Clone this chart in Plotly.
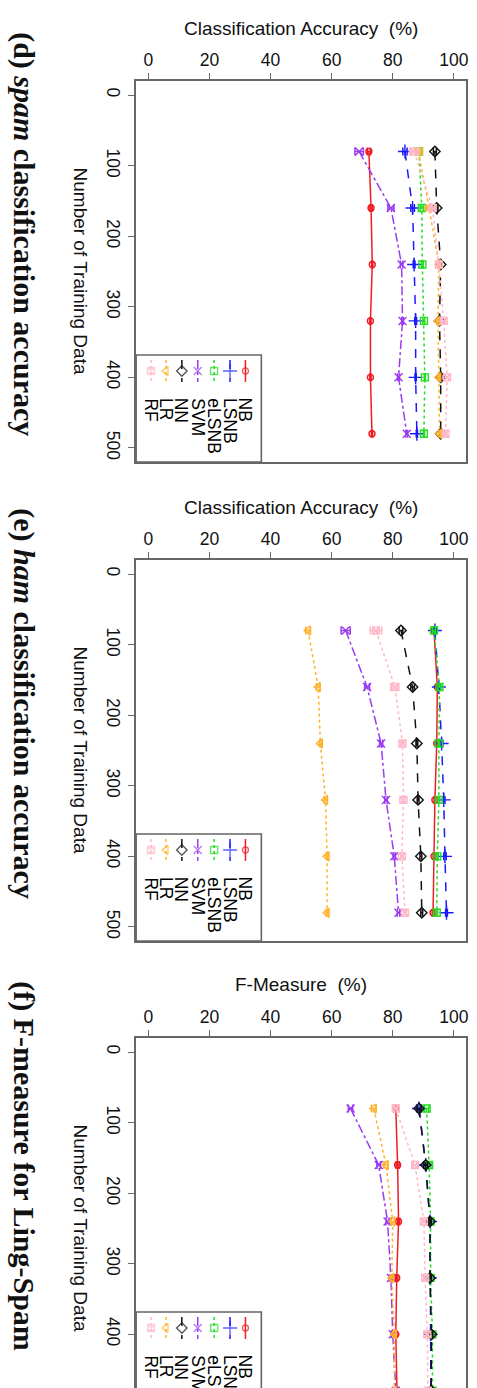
import plotly.graph_objects as go

# ---------------- data ----------------
train_sizes = [80, 160, 240, 320, 400, 480]
methods = ["NB", "LSNB", "eLSNB", "SVM", "NN", "LR", "RF"]
x_ticks = [0, 20, 40, 60, 80, 100]
y_ticks = [0, 100, 200, 300, 400, 500]

# (d) spam classification accuracy
spam_nb = [72.2, 72.9, 73.3, 72.7, 72.7, 73.2]
spam_lsnb = [84.0, 86.5, 87.0, 87.5, 87.5, 87.9]
spam_elsnb = [88.6, 89.5, 89.7, 90.2, 90.5, 90.2]
spam_svm = [69.0, 79.4, 82.9, 83.2, 81.9, 84.6]
spam_nn = [93.8, 94.4, 95.7, 95.3, 95.7, 95.7]
spam_lr = [88.4, 91.9, 95.1, 94.8, 95.1, 95.3]
spam_rf = [87.0, 93.0, 95.1, 96.7, 97.8, 97.3]

# (e) ham classification accuracy
ham_nb = [93.5, 94.6, 94.4, 93.8, 93.5, 93.2]
ham_lsnb = [93.8, 95.1, 96.0, 96.7, 97.1, 97.6]
ham_elsnb = [93.5, 95.3, 95.1, 95.1, 94.6, 94.4]
ham_svm = [64.6, 71.6, 76.2, 77.8, 80.5, 81.9]
ham_nn = [82.7, 86.5, 87.9, 88.3, 89.2, 89.5]
ham_lr = [52.3, 55.6, 56.3, 58.0, 58.5, 58.5]
ham_rf = [74.5, 80.7, 83.2, 83.5, 83.0, 84.0]

# (f) F-measure for Ling-Spam
fm_nb = [81.0, 81.6, 81.9, 81.3, 81.0, 81.4]
fm_lsnb = [88.6, 90.8, 92.2, 92.2, 92.4, 92.5]
fm_elsnb = [91.1, 91.9, 92.4, 92.4, 93.0, 93.0]
fm_svm = [66.2, 75.4, 78.3, 79.4, 80.0, 81.0]
fm_nn = [88.6, 90.8, 92.2, 92.2, 92.7, 92.6]
fm_lr = [73.8, 77.8, 80.0, 79.7, 80.5, 80.5]
fm_rf = [81.0, 87.3, 90.2, 90.6, 91.3, 91.5]

# error-bar half widths
spam_err_nb = [0.5, 0.4, 0.2, 0.2, 0.2, 0.2]
spam_err_lsnb = [0.7, 0.6, 0.3, 0.3, 0.2, 0.2]
spam_err_elsnb = [0.6, 0.5, 0.3, 0.3, 0.2, 0.2]
spam_err_svm = [1.4, 1.0, 0.4, 0.3, 0.3, 0.3]
spam_err_nn = [0.5, 0.4, 0.3, 0.3, 0.3, 0.2]
spam_err_lr = [1.2, 1.0, 0.4, 0.3, 0.3, 0.3]
spam_err_rf = [1.5, 1.2, 0.5, 0.5, 0.5, 0.5]

ham_err_nb = [0.4, 0.4, 0.3, 0.3, 0.3, 0.3]
ham_err_lsnb = [0.5, 0.4, 0.4, 0.4, 0.4, 0.3]
ham_err_elsnb = [0.5, 0.5, 0.3, 0.3, 0.3, 0.3]
ham_err_svm = [1.5, 0.8, 0.5, 0.4, 0.4, 0.4]
ham_err_nn = [0.6, 0.6, 0.3, 0.3, 0.3, 0.3]
ham_err_lr = [0.8, 0.6, 0.3, 0.5, 0.3, 0.3]
ham_err_rf = [1.9, 1.3, 0.5, 0.4, 0.4, 0.4]

fm_err_nb = [0.6, 0.5, 0.4, 0.4, 0.4, 0.4]
fm_err_lsnb = [0.8, 0.7, 0.4, 0.4, 0.4, 0.4]
fm_err_elsnb = [0.7, 0.6, 0.4, 0.4, 0.4, 0.4]
fm_err_svm = [0.7, 0.6, 0.5, 0.4, 0.4, 0.4]
fm_err_nn = [0.6, 0.6, 0.4, 0.4, 0.4, 0.4]
fm_err_lr = [0.8, 0.7, 0.6, 0.5, 0.4, 0.4]
fm_err_rf = [0.6, 0.7, 0.5, 0.5, 0.4, 0.4]

# ---------------- styles ----------------
colors = {"NB": "#ee1c25", "LSNB": "#1a1aff", "eLSNB": "#22dd22", "SVM": "#9a3cf0",
          "NN": "#111111", "LR": "#ffb22a", "RF": "#ffb8c8"}
dashes = {"NB": "solid", "LSNB": "dash", "eLSNB": "dot", "SVM": "dashdot",
          "NN": "dash", "LR": "dot", "RF": "dot"}
symbols = {"NB": "circle-open", "LSNB": "cross-thin-open", "eLSNB": "square-open",
           "SVM": "x-thin-open", "NN": "diamond-open", "LR": "triangle-left-open",
           "RF": "square-x-open"}
msize = {"NB": 6, "LSNB": 10, "eLSNB": 7, "SVM": 8, "NN": 8, "LR": 8, "RF": 7}

panels = [
    {"title": "<b>(d) <i>spam</i> classification accuracy</b>", "xtitle": "Classification Accuracy  (%)",
     "centre": 234,
     "vals": [spam_nb, spam_lsnb, spam_elsnb, spam_svm, spam_nn, spam_lr, spam_rf],
     "errs": [spam_err_nb, spam_err_lsnb, spam_err_elsnb, spam_err_svm, spam_err_nn, spam_err_lr, spam_err_rf]},
    {"title": "<b>(e) <i>ham</i> classification accuracy</b>", "xtitle": "Classification Accuracy  (%)",
     "centre": 704,
     "vals": [ham_nb, ham_lsnb, ham_elsnb, ham_svm, ham_nn, ham_lr, ham_rf],
     "errs": [ham_err_nb, ham_err_lsnb, ham_err_elsnb, ham_err_svm, ham_err_nn, ham_err_lr, ham_err_rf]},
    {"title": "<b>(f) F-measure for Ling-Spam</b>", "xtitle": "F-Measure  (%)",
     "centre": 1166,
     "vals": [fm_nb, fm_lsnb, fm_elsnb, fm_svm, fm_nn, fm_lr, fm_rf],
     "errs": [fm_err_nb, fm_err_lsnb, fm_err_elsnb, fm_err_svm, fm_err_nn, fm_err_lr, fm_err_rf]},
]

W, H = 477, 1388
plot_left, plot_right = 137, 469
panel_tops = [81, 560, 1038]
plot_h = 381
px_per_unit = plot_h / 540.0

def py(p):
    return 1 - p / H

def pxx(p):
    return p / W

SANS = "Liberation Sans, Arial, sans-serif"
SERIF = "Liberation Serif, Times New Roman, serif"
AX = "#666666"

fig = go.Figure()
layout = dict(width=W, height=H, margin=dict(l=0, r=0, t=0, b=0),
              paper_bgcolor="white", plot_bgcolor="rgba(0,0,0,0)", showlegend=False)
annotations = []
shapes = []

for i, pan in enumerate(panels):
    k = i + 1
    top = panel_tops[i]
    bottom = top + plot_h
    if bottom > H:
        yrange_bottom = -20 + (H - top) / px_per_unit
        bottom = H
    else:
        yrange_bottom = 520
    xa = "xaxis" if k == 1 else f"xaxis{k}"
    ya = "yaxis" if k == 1 else f"yaxis{k}"
    xr = "x" if k == 1 else f"x{k}"
    yr = "y" if k == 1 else f"y{k}"
    layout[xa] = dict(domain=[pxx(plot_left), pxx(plot_right)], range=[-4, 104], side="top",
                      anchor=yr, tickvals=x_ticks, ticks="outside", ticklen=6, tickcolor=AX,
                      tickwidth=1.2, showgrid=False, zeroline=False, showline=True,
                      linecolor=AX, linewidth=1.6, mirror=(k != 3),
                      tickfont=dict(family=SANS, size=17.5, color="#111"))
    layout[ya] = dict(domain=[py(bottom), py(top)], range=[yrange_bottom, -20], anchor=xr,
                      tickvals=y_ticks, ticks="outside", ticklen=6, tickcolor=AX, tickwidth=1.2,
                      tickangle=90, showgrid=False, zeroline=False, showline=True,
                      linecolor=AX, linewidth=1.6, mirror=True,
                      tickfont=dict(family=SANS, size=17.5, color="#111"))
    for m, v, e in zip(methods, pan["vals"], pan["errs"]):
        fig.add_trace(go.Scatter(
            x=v, y=train_sizes, xaxis=xr, yaxis=yr, mode="lines+markers",
            line=dict(color=colors[m], width=1.5, dash=dashes[m]),
            marker=dict(symbol=symbols[m], size=msize[m], color=colors[m],
                        line=dict(color=colors[m], width=1.4)),
            error_x=dict(type="data", array=e, visible=True, color=colors[m],
                         thickness=1.5, width=4),
            cliponaxis=True))
    # panel title (rotated)
    annotations.append(dict(text=pan["title"], xref="paper", yref="paper", x=pxx(24),
                            y=py(pan["centre"]),
                            showarrow=False, textangle=90, xanchor="center", yanchor="middle",
                            font=dict(family=SERIF, size=30, color="#111")))
    # x axis title
    annotations.append(dict(text=pan["xtitle"], xref="paper", yref="paper",
                            x=pxx((plot_left + plot_right) / 2), y=py(top - 53),
                            showarrow=False, xanchor="center", yanchor="middle",
                            font=dict(family=SANS, size=19, color="#111")))
    # y axis title
    annotations.append(dict(text="Number of Training Data", xref="paper", yref="paper",
                            x=pxx(82), y=py(top + 190), showarrow=False, textangle=90,
                            xanchor="center", yanchor="middle",
                            font=dict(family=SANS, size=19, color="#111")))
    # legend box
    shapes.append(dict(type="rect", xref="paper", yref="paper", x0=pxx(plot_left), x1=pxx(263),
                       y0=py(min(top + plot_h, H + 5)), y1=py(top + 274),
                       line=dict(color=AX, width=1.6), fillcolor="rgba(0,0,0,0)"))
    col_x = [247, 231.5, 215.5, 199, 183, 167, 152]
    sym_y = top + 290
    for m, cx in zip(methods, col_x):
        fig.add_trace(go.Scatter(
            x=[cx, cx, cx], y=[sym_y - 11, sym_y, sym_y + 11], xaxis="x4", yaxis="y4",
            mode="lines+markers", line=dict(color=colors[m], width=1.5, dash=dashes[m]),
            marker=dict(symbol=symbols[m], size=[0, msize[m], 0], color=colors[m],
                        line=dict(color=colors[m], width=1.4)),
            cliponaxis=False))
        annotations.append(dict(text=m, xref="paper", yref="paper", x=pxx(cx), y=py(top + 315),
                                showarrow=False, textangle=90, xanchor="center", yanchor="top",
                                font=dict(family=SANS, size=17.5, color="#000")))

layout["xaxis4"] = dict(domain=[0, 1], range=[0, W], visible=False, anchor="y4")
layout["yaxis4"] = dict(domain=[0, 1], range=[H, 0], visible=False, anchor="x4")
layout["annotations"] = annotations
layout["shapes"] = shapes
fig.update_layout(**layout)

fig.write_html("out.html")
